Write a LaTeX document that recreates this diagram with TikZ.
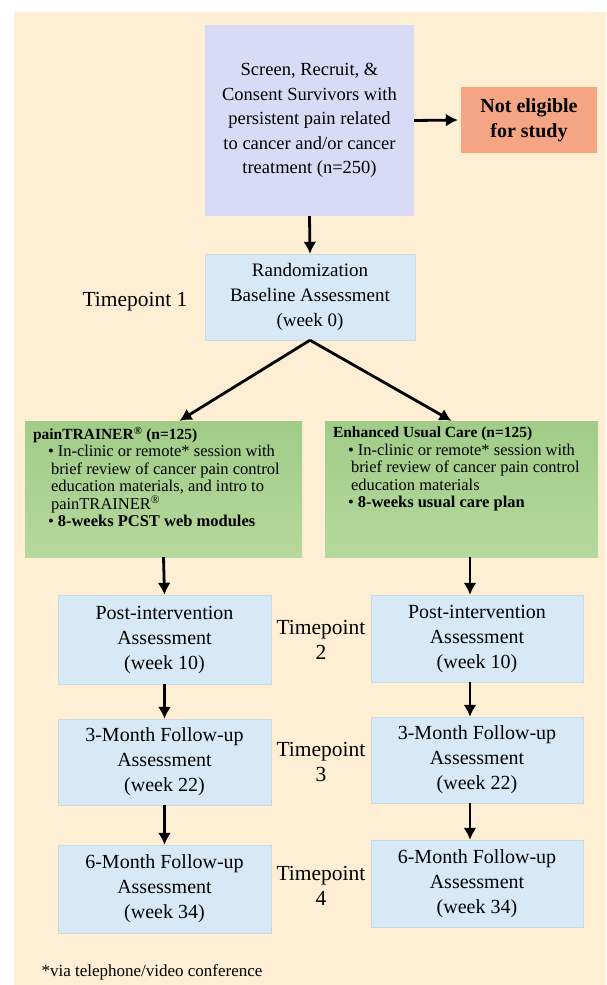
\documentclass[tikz,border=0pt]{standalone}
\usepackage{fontspec}
\setmainfont{Liberation Serif}
\usepackage{tikz}
\usetikzlibrary{arrows.meta}

\definecolor{creambg}{RGB}{253,238,212}
\definecolor{lavbox}{RGB}{217,219,246}
\definecolor{salmonbox}{RGB}{245,165,132}
\definecolor{bluebox}{RGB}{215,233,246}
\definecolor{greentop}{RGB}{160,204,136}
\definecolor{greenbot}{RGB}{182,216,156}

\newcommand{\gitem}{\hspace*{15pt}\textbullet\hspace{4pt}}
\newcommand{\gcont}{\hspace*{18pt}}

\begin{document}
\begin{tikzpicture}[x=1pt,y=-1pt,
    assess/.style={fill=bluebox, draw=bluebox!85!gray, line width=0.4pt, align=center, inner sep=0pt,
      minimum width=213pt, minimum height=88pt, font=\fontsize{20}{25}\selectfont},
    armbox/.style={top color=greentop, bottom color=greenbot, inner xsep=8pt, inner ysep=6pt,
      font=\fontsize{16.5}{17.5}\selectfont},
    tplabel/.style={align=center, font=\fontsize{21.5}{25}\selectfont},
    arr/.style={black, line width=2.8pt, -{Latex[length=12pt,width=13pt]}}]
      \useasboundingbox (0,0) rectangle (606,985);
      \fill [white] (0,0) rectangle (606,985);
      \fill [creambg] (14,12) rectangle (606,985);

      % screening and randomization
      \node [fill=lavbox, align=center, minimum width=209pt, minimum height=191pt, inner sep=0pt,
        font=\fontsize{18.5}{24.5}\selectfont] (screen) at (309.5,120.5)
        {\raisebox{-4pt}{\parbox{200pt}{\centering Screen, Recruit, \&\\Consent Survivors with\\persistent pain related\\to cancer and/or cancer\\treatment (n=250)}}};
      \node [fill=salmonbox, align=center, minimum width=136pt, minimum height=66pt, inner sep=0pt,
        font=\fontsize{20}{25}\selectfont\bfseries] (notelig) at (529,120) {Not eligible\\for study};
      \node [assess, minimum width=210pt, minimum height=86pt, font=\fontsize{19}{25}\selectfont] (rand) at (310,297)
        {Randomization\\Baseline Assessment\\(week 0)};
      \node [tplabel] (tp1) at (135,302) {Timepoint 1};

      % study arms
      \node [armbox] (ptr) at (163.5,489) {\parbox[c][124pt][t]{261pt}{%
        {\fontsize{15.5}{17.5}\selectfont\bfseries painTRAINER\textsuperscript{\textregistered} (n=125)}\\
        \gitem In-clinic or remote* session with\\
        \gcont brief review of cancer pain control\\
        \gcont education materials, and intro to\\
        \gcont painTRAINER\textsuperscript{\textregistered}\\
        \gitem \textbf{8-weeks PCST web modules}}};
      \node [armbox] (euc) at (461.5,489) {\parbox[c][124pt][t]{257pt}{%
        {\fontsize{15.5}{17.5}\selectfont\bfseries Enhanced Usual Care (n=125)}\\
        \gitem In-clinic or remote* session with\\
        \gcont brief review of cancer pain control\\
        \gcont education materials\\
        \gitem \textbf{8-weeks usual care plan}}};

      % follow-up assessments
      \node [assess, minimum height=89pt] (lpost) at (164.5,639.5) {Post-intervention\\Assessment\\(week 10)};
      \node [assess, minimum height=86pt] (lfu3) at (164.5,762) {3-Month Follow-up\\Assessment\\(week 22)};
      \node [assess] (lfu6) at (164.5,889) {6-Month Follow-up\\Assessment\\(week 34)};
      \node [assess, minimum width=212pt, minimum height=87pt] (rpost) at (477,638.5) {Post-intervention\\Assessment\\(week 10)};
      \node [assess, minimum width=212pt, minimum height=86pt] (rfu3) at (477,760) {3-Month Follow-up\\Assessment\\(week 22)};
      \node [assess, minimum width=212pt, minimum height=87pt] (rfu6) at (477,883.5) {6-Month Follow-up\\Assessment\\(week 34)};
      \node [tplabel] (tp2) at (321,640) {Timepoint\\2};
      \node [tplabel] (tp3) at (321,762) {Timepoint\\3};
      \node [tplabel] (tp4) at (321,886) {Timepoint\\4};

      \node [anchor=west, font=\fontsize{17}{20}\selectfont] (note) at (38,972) {*via telephone/video conference};

      % arrows
      \draw [arr] (screen.east) -- ([xshift=-3pt]notelig.west);
      \draw [arr] (screen.south) -- (rand.north);
      \draw [arr] (rand.south) -- ([xshift=16pt]ptr.north);
      \draw [arr] (rand.south) -- ([xshift=-10pt]euc.north);
      \draw [arr] (ptr.south) -- (lpost.north);
      \draw [arr] (lpost.south) -- (lfu3.north);
      \draw [arr] (lfu3.south) -- (lfu6.north);
      \draw [arr] ([xshift=8.5pt]euc.south) -- ([xshift=-7pt]rpost.north);
      \draw [arr] ([xshift=-7pt]rpost.south) -- ([xshift=-7pt]rfu3.north);
      \draw [arr] ([xshift=-7pt]rfu3.south) -- ([xshift=-7pt]rfu6.north);
    \end{tikzpicture}
\end{document}
